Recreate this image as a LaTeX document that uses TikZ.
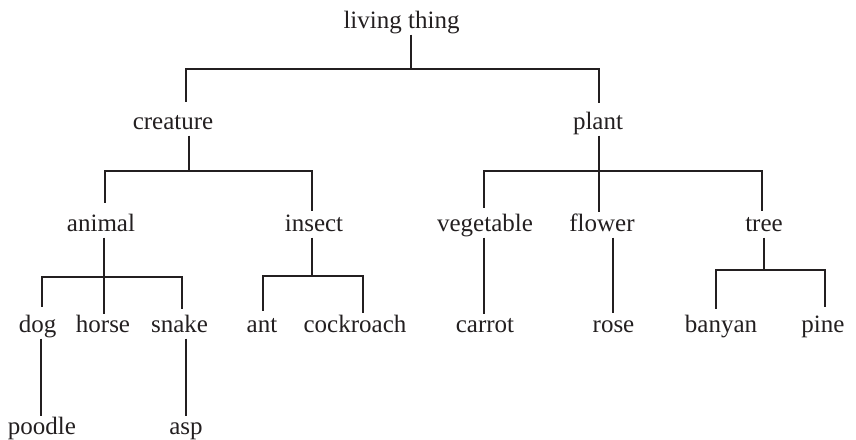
\documentclass[tikz,border=0pt]{standalone}
\usepackage{fontspec}
\setmainfont{Liberation Serif}
\definecolor{ink}{HTML}{231F20}
\begin{document}
\begin{tikzpicture}[x=1pt,y=1pt,
  lbl/.style={anchor=base,inner sep=0pt,text height=17pt,text depth=5.5pt,
    font=\fontsize{25}{30}\selectfont,text=ink},
  link/.style={draw=ink,line width=2pt}]
\useasboundingbox (0,0) rectangle (856,439);
% nodes (y = 439 - baseline)
\node[lbl] (living) at (401.5,410) {living thing};
\node[lbl] (creature) at (173,309) {creature};
\node[lbl] (plant) at (598,309) {plant};
\node[lbl] (animal) at (101,207) {animal};
\node[lbl] (insect) at (314,207) {insect};
\node[lbl] (vegetable) at (485,207) {vegetable};
\node[lbl] (flower) at (602,207) {flower};
\node[lbl] (tree) at (764,207) {tree};
\node[lbl] (dog) at (37.5,106) {dog};
\node[lbl] (horse) at (103,106) {horse};
\node[lbl] (snake) at (179.5,106) {snake};
\node[lbl] (ant) at (262,106) {ant};
\node[lbl] (cockroach) at (355,106) {cockroach};
\node[lbl] (carrot) at (485,106) {carrot};
\node[lbl] (rose) at (613.5,106) {rose};
\node[lbl] (banyan) at (721,106) {banyan};
\node[lbl] (pine) at (823,106) {pine};
\node[lbl] (poodle) at (42,5) {poodle};
\node[lbl] (asp) at (186,5) {asp};
% connectors
\draw[link] ([xshift=9.5pt]living.south) -- ++(0,-34.5) coordinate (jl)
  (jl) -| ([xshift=13pt,yshift=11pt]creature.north)
  (jl) -| ([xshift=1pt,yshift=10pt]plant.north);
\draw[link] ([xshift=16pt]creature.south) -- ++(0,-35.5) coordinate (jc)
  (jc) -| ([xshift=4pt,yshift=12pt]animal.north)
  (jc) -| ([xshift=-2pt,yshift=4pt]insect.north);
\draw[link] ([xshift=1pt]plant.south) -- ++(0,-35.5) coordinate (jp)
  (jp) -| ([xshift=-1pt,yshift=7pt]vegetable.north)
  (jp) -| ([xshift=-3pt,yshift=3pt]flower.north)
  (jp) -| ([xshift=-2pt,yshift=4pt]tree.north);
\draw[link] ([xshift=3pt]animal.south) -- ++(0,-39.5) coordinate (ja)
  (ja) -| ([xshift=4.5pt,yshift=9pt]dog.north)
  (ja) -| ([xshift=1pt,yshift=2pt]horse.north)
  (ja) -| ([xshift=2.5pt,yshift=7pt]snake.north);
\draw[link] ([xshift=-2pt]insect.south) -- ++(0,-38.5) coordinate (ji)
  (ji) -| ([xshift=1pt,yshift=5pt]ant.north)
  (ji) -| ([xshift=8pt,yshift=3pt]cockroach.north);
\draw[link] ([xshift=0pt]tree.south) -- ++(0,-32.5) coordinate (jt)
  (jt) -| ([xshift=-5pt,yshift=7pt]banyan.north)
  (jt) -| ([xshift=2pt,yshift=9pt]pine.north);
\draw[link] ([xshift=-1pt]vegetable.south) -- ([xshift=-1pt,yshift=2pt]carrot.north);
\draw[link] ([xshift=11pt]flower.south) -- ([xshift=-0.5pt,yshift=3pt]rose.north);
\draw[link] ([xshift=3.5pt]dog.south) -- ([xshift=-1pt,yshift=1pt]poodle.north);
\draw[link] ([xshift=6.5pt]snake.south) -- ([yshift=1pt]asp.north);
\end{tikzpicture}
\end{document}
